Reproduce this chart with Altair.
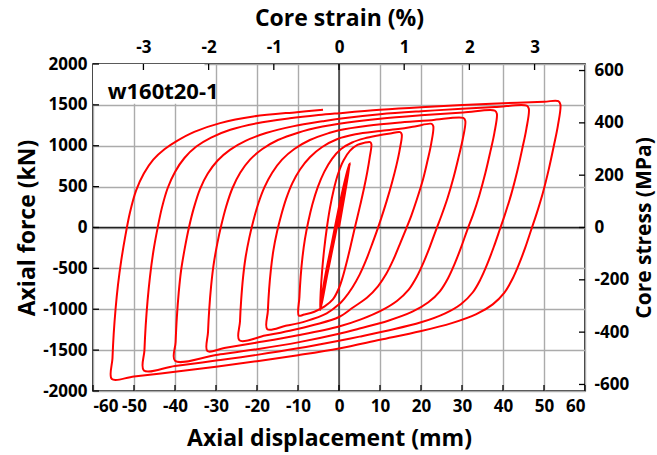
import altair as alt
import pandas as pd

# ---------------- data ----------------
disp_ticks = list(range(-60, 61, 10))          # mm
force_ticks = list(range(-2000, 2001, 500))    # kN
strain_ticks = [-3, -2, -1, 0, 1, 2, 3]        # %
stress_ticks = [-600, -400, -200, 0, 200, 400, 600]  # MPa

core_length_mm = 1590.0   # strain = disp / L
core_area_mm2 = 3200.0    # stress = force / A (160 x 20)

specimen_label = ["w160t20-1"]

# hysteresis branches (displacement mm, force kN), in loading order
init_cycles = [(0, 0), (1.4, 400), (2.7, 790), (1.0, 380), (-1.0, -120), (-2.8, -560),
               (-4.0, -880), (-4.6, -1010), (-3.6, -660), (-1.8, -200), (0.2, 300),
               (1.6, 610), (2.5, 780), (0.6, 330), (-1.4, -170), (-3.2, -620), (-4.5, -995)]
a1 = [(-4.6, -1010), (-4.45, -780), (-4.1, -520), (-3.6, -260), (-2.95, 0), (-2.2, 240),
      (-1.3, 460), (-0.2, 660), (1.1, 820), (2.7, 940), (4.5, 1010), (6.1, 1035), (7.6, 1045)]
d2 = [(7.9, 1020), (7.5, 860), (6.9, 680), (6.1, 480), (5.2, 280), (4.4, 110), (3.8, -15),
      (3.0, -190), (2.0, -400), (1.0, -590), (0, -740), (-1.5, -880), (-3.5, -965),
      (-6, -1030), (-8.5, -1065), (-9.8, -1078)]
a2 = [(-9.65, -850), (-9.35, -600), (-8.9, -360), (-8.3, -140), (-7.5, 70), (-6.5, 280),
      (-5.2, 490), (-3.6, 680), (-1.7, 840), (0.5, 960), (3.2, 1040), (6.2, 1090),
      (9.5, 1125), (12.5, 1150), (14.9, 1167)]
d3 = [(15.3, 1140), (14.8, 950), (14.0, 760), (12.9, 545), (11.6, 320), (10.4, 130),
      (9.4, -20), (8.1, -200), (6.6, -400), (5.0, -580), (3.3, -730), (1.3, -870),
      (0, -940), (-3, -1050), (-8, -1145), (-13, -1203), (-17.5, -1244)]
a3 = [(-17.35, -1020), (-17.05, -760), (-16.6, -510), (-16.0, -280), (-15.1, -50),
      (-14.1, 150), (-12.9, 350), (-11.4, 540), (-9.5, 710), (-7.1, 860), (-4.1, 985),
      (-0.5, 1080), (4, 1140), (10, 1180), (14.9, 1208), (18.5, 1236), (22.6, 1268)]
d4 = [(23.0, 1238), (22.5, 1030), (21.6, 820), (20.5, 590), (19.0, 345), (17.6, 140),
      (16.3, -25), (14.8, -210), (13.2, -400), (11.5, -570), (9.5, -720), (6.8, -860),
      (3.5, -975), (0, -1095), (-6, -1190), (-12, -1262), (-18, -1322), (-24.3, -1380)]
a4 = [(-24.15, -1150), (-23.85, -880), (-23.4, -610), (-22.8, -370), (-21.9, -130),
      (-20.9, 80), (-19.7, 290), (-18.2, 490), (-16.3, 670), (-13.9, 830), (-10.9, 960),
      (-7.1, 1070), (-2.5, 1155), (0, 1190), (7, 1245), (15, 1285), (22.6, 1313),
      (30.3, 1340)]
d5 = [(30.8, 1305), (30.2, 1085), (29.2, 867), (28.0, 624), (26.5, 364), (25.0, 147),
      (23.7, -25), (22.2, -230), (20.6, -430), (19.0, -600), (17.0, -760), (14.2, -895),
      (10.5, -1010), (5.5, -1120), (0, -1210), (-10, -1318), (-20, -1408), (-28, -1475),
      (-32.1, -1512)]
a5 = [(-31.95, -1280), (-31.65, -1000), (-31.2, -720), (-30.6, -460), (-29.7, -200),
      (-28.7, 30), (-27.5, 260), (-26.0, 480), (-24.1, 670), (-21.7, 830), (-18.7, 960),
      (-14.9, 1070), (-10, 1160), (-4, 1235), (0, 1270), (10, 1330), (20, 1372),
      (30.3, 1407), (38, 1430)]
d6 = [(38.5, 1393), (37.9, 1158), (36.9, 925), (35.7, 666), (34.2, 389), (32.7, 157),
      (31.3, -28), (29.8, -240), (28.2, -445), (26.6, -620), (24.6, -780), (21.8, -915),
      (17.9, -1030), (12, -1140), (5, -1235), (0, -1300), (-10, -1405), (-20, -1488),
      (-30, -1560), (-40, -1630)]
a6 = [(-39.85, -1400), (-39.55, -1100), (-39.1, -800), (-38.5, -520), (-37.6, -250),
      (-36.6, 0), (-35.4, 240), (-33.9, 470), (-32.0, 660), (-29.6, 820), (-26.6, 950),
      (-22.8, 1060), (-17.8, 1155), (-11, 1240), (-4, 1300), (0, 1330), (10, 1385),
      (20, 1422), (30, 1452), (38, 1473), (45.8, 1490)]
d7 = [(46.3, 1452), (45.7, 1207), (44.7, 964), (43.5, 694), (42.0, 405), (40.5, 164),
      (39.2, -28), (37.7, -245), (36.1, -455), (34.5, -635), (32.6, -795), (29.8, -935),
      (25.9, -1050), (20, -1160), (12, -1260), (5, -1335), (0, -1385), (-10, -1478),
      (-20, -1558), (-30, -1628), (-40, -1694), (-47.6, -1748)]
a7 = [(-47.45, -1500), (-47.15, -1200), (-46.7, -900), (-46.1, -600), (-45.3, -300),
      (-44.3, -20), (-43.2, 240), (-41.8, 480), (-40.0, 680), (-37.7, 850), (-34.8, 990),
      (-31.2, 1100), (-26.5, 1195), (-20, 1275), (-12, 1335), (-5, 1375), (0, 1398),
      (10, 1440), (20, 1472), (30, 1497), (40, 1520), (50, 1539), (53.5, 1545)]
d8 = [(54.0, 1505), (53.4, 1250), (52.4, 1000), (51.2, 720), (49.7, 420), (48.2, 170),
      (46.9, -25), (45.4, -250), (43.8, -460), (42.2, -640), (40.3, -800), (37.5, -940),
      (33.5, -1060), (27.5, -1170), (19.8, -1270), (10, -1374), (0, -1480), (-10, -1562),
      (-20, -1635), (-30, -1703), (-40, -1765), (-50, -1822), (-55.4, -1854)]
a8 = [(-55.25, -1600), (-54.95, -1300), (-54.5, -1000), (-53.9, -700), (-53.1, -400),
      (-52.1, -100), (-51.0, 180), (-49.5, 450), (-47.6, 660), (-45.3, 830), (-42.5, 960),
      (-39.5, 1060), (-35.3, 1170), (-29, 1277), (-20.9, 1358), (-10.3, 1411), (-3.9, 1439)]

branches = [init_cycles, a1, d2, a2, d3, a3, d4, a4, d5, a5, d6, a6, d7, a7, d8, a8]

# ---------------- tables ----------------
rows = []
prev = None
for br in branches:
    for (dx, fy) in br:
        if prev == (dx, fy):
            continue
        rows.append({"i": len(rows), "disp": dx, "force": fy})
        prev = (dx, fy)
curve_df = pd.DataFrame(rows)

W, H = 492, 327
FONT = "Open Sans"
LBL = dict(labelFont=FONT, labelFontSize=17, labelFontWeight="bold", labelColor="black",
           titleFont=FONT, titleFontSize=23, titleFontWeight="bold", titleColor="black",
           domain=False, tickSize=0, labelExpr="'' + datum.value")

s_max = 60.0 / core_length_mm * 100.0
p_max = 2000.0 * 1000.0 / core_area_mm2

xs = alt.Scale(domain=[-60, 60], nice=False, zero=False)
ys = alt.Scale(domain=[-2000, 2000], nice=False, zero=False)

x_axis = alt.Axis(values=disp_ticks, grid=True, gridColor="#ababab", gridWidth=1.4,
                  labelPadding=7, title="Axial displacement (mm)",
                  titleX=W / 2 - 10, titleY=47, titleBaseline="middle", titleAlign="center",
                  **LBL)
y_axis = alt.Axis(values=force_ticks, grid=True, gridColor="#ababab", gridWidth=1.4,
                  labelPadding=6, title="Axial force (kN)",
                  titleX=-66, titleY=H / 2, titleAngle=270, titleBaseline="middle",
                  titleAlign="center", **LBL)


def X(field):
    return alt.X(f"{field}:Q", scale=xs, axis=x_axis)


def Y(field):
    return alt.Y(f"{field}:Q", scale=ys, axis=y_axis)


box = alt.Chart(pd.DataFrame({"disp": [-60], "disp2": [-32.8],
                              "force": [1515], "force2": [2000]})).mark_rect(
    color="white").encode(x=X("disp"), x2="disp2", y=Y("force"), y2="force2")

zero_v = alt.Chart(pd.DataFrame({"disp": [0]})).mark_rule(color="#222", strokeWidth=1.3).encode(
    x=X("disp"))
zero_h = alt.Chart(pd.DataFrame({"force": [0]})).mark_rule(color="#222", strokeWidth=1.3).encode(
    y=Y("force"))

bottom_ticks = alt.Chart(pd.DataFrame({"disp": disp_ticks})).mark_rule(
    color="black", strokeWidth=1.3).encode(x=X("disp"), y=alt.value(H - 6), y2=alt.value(H))
left_ticks = alt.Chart(pd.DataFrame({"force": force_ticks})).mark_rule(
    color="black", strokeWidth=1.3).encode(y=Y("force"), x=alt.value(0), x2=alt.value(6))

loops = alt.Chart(curve_df).mark_line(color="#ff0000", strokeWidth=2,
                                      interpolate="catmull-rom").encode(
    x=X("disp"), y=Y("force"), order=alt.Order("i:Q"))

label = alt.Chart(pd.DataFrame({"disp": [-42.9], "force": [1660], "t": specimen_label})).mark_text(
    font=FONT, fontSize=22, fontWeight="bold", color="black", align="center",
    baseline="middle").encode(x=X("disp"), y=Y("force"), text="t:N")

inner = alt.layer(box, zero_v, zero_h, bottom_ticks, left_ticks, loops, label)

top = alt.Chart(pd.DataFrame({"strain": strain_ticks})).mark_rule(
    color="black", strokeWidth=1.3).encode(
    x=alt.X("strain:Q", scale=alt.Scale(domain=[-s_max, s_max], nice=False, zero=False),
            axis=alt.Axis(orient="top", values=strain_ticks, grid=False, labelPadding=8,
                          title="Core strain (%)", titleX=W / 2, titleY=-46,
                          titleBaseline="middle", titleAlign="center", **LBL)),
    y=alt.value(0), y2=alt.value(6))

right = alt.Chart(pd.DataFrame({"stress": stress_ticks})).mark_rule(
    color="black", strokeWidth=1.3).encode(
    y=alt.Y("stress:Q", scale=alt.Scale(domain=[-p_max, p_max], nice=False, zero=False),
            axis=alt.Axis(orient="right", values=stress_ticks, grid=False, labelPadding=9,
                          title="Core stress (MPa)", titleX=59, titleY=H / 2,
                          titleAngle=270, titleBaseline="middle", titleAlign="center",
                          **{**LBL, "titleFontSize": 21})),
    x=alt.value(W - 6), x2=alt.value(W))

chart = alt.layer(inner, top, right).resolve_scale(
    x="independent", y="independent"
).properties(
    width=W, height=H,
    padding={"left": 93, "top": 64, "right": 72, "bottom": 64},
    autosize=alt.AutoSizeParams(type="none"),
    background="white",
).configure_view(stroke="black", strokeWidth=1.6)

chart.save("out.html", embed_options={"renderer": "svg", "actions": False})
